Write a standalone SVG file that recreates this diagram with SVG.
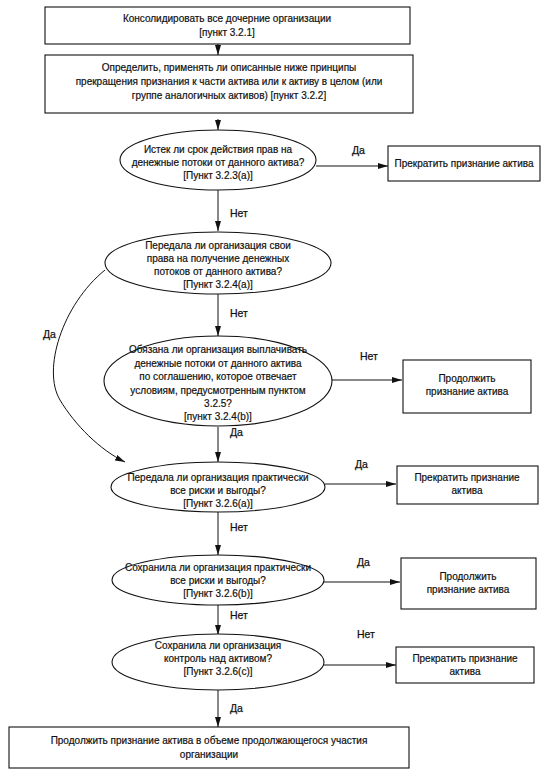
<svg xmlns="http://www.w3.org/2000/svg" width="552" height="775" viewBox="0 0 552 775">
<style>
.n{fill:#fff;stroke:#111;stroke-width:1.1}
.t{font-family:"Liberation Sans",Arial,sans-serif;font-size:10px;fill:#111;stroke:#111;stroke-width:0.2;text-anchor:middle}
.l{font-family:"Liberation Sans",Arial,sans-serif;font-size:10.5px;fill:#111;stroke:#111;stroke-width:0.25}
.c{fill:none;stroke:#111;stroke-width:1}
</style>
<defs>
<marker id="a" viewBox="0 0 10 6" refX="10" refY="3" markerWidth="10" markerHeight="6" markerUnits="userSpaceOnUse" orient="auto">
<path d="M0,0 L10,3 L0,6 Z" fill="#111"/>
</marker>
</defs>
<rect width="552" height="775" fill="#fff"/>
<g id="connectors">
<line class="c" x1="218" y1="44" x2="218" y2="55" marker-end="url(#a)"/>
<line class="c" x1="218" y1="119" x2="218" y2="130" marker-end="url(#a)"/>
<line class="c" x1="316" y1="166" x2="388" y2="166" marker-end="url(#a)"/>
<line class="c" x1="218" y1="190" x2="218" y2="231" marker-end="url(#a)"/>
<line class="c" x1="218" y1="294" x2="218" y2="336" marker-end="url(#a)"/>
<path class="c" d="M105,270 C62,305 42,370 60,400 C75,425 100,450 125,462" marker-end="url(#a)"/>
<line class="c" x1="331" y1="380" x2="402" y2="380" marker-end="url(#a)"/>
<line class="c" x1="218" y1="427" x2="218" y2="462" marker-end="url(#a)"/>
<line class="c" x1="325" y1="484" x2="396" y2="484" marker-end="url(#a)"/>
<line class="c" x1="218" y1="512" x2="218" y2="555" marker-end="url(#a)"/>
<line class="c" x1="323" y1="582" x2="400" y2="582" marker-end="url(#a)"/>
<line class="c" x1="218" y1="605" x2="218" y2="635" marker-end="url(#a)"/>
<line class="c" x1="323" y1="665" x2="396" y2="665" marker-end="url(#a)"/>
<line class="c" x1="218" y1="690" x2="218" y2="727" marker-end="url(#a)"/>
<text class="l" x="352" y="154">Да</text>
<text class="l" x="230" y="217">Нет</text>
<text class="l" x="230" y="317">Нет</text>
<text class="l" x="43" y="338">Да</text>
<text class="l" x="360" y="360">Нет</text>
<text class="l" x="230" y="436">Да</text>
<text class="l" x="355" y="468">Да</text>
<text class="l" x="230" y="531">Нет</text>
<text class="l" x="357" y="566">Да</text>
<text class="l" x="230" y="619">Нет</text>
<text class="l" x="357" y="638">Нет</text>
<text class="l" x="230" y="712">Да</text>
</g>
<g id="n1"><rect class="n" x="45" y="7" width="365" height="37"/>
<text class="t" x="227" y="22">Консолидировать все дочерние организации</text>
<text class="t" x="227" y="36">[пункт 3.2.1]</text></g>
<g id="n2"><rect class="n" x="45" y="55" width="368" height="58"/>
<text class="t" x="229" y="71">Определить, применять ли описанные ниже принципы</text>
<text class="t" x="229" y="85">прекращения признания к части актива или к активу в целом (или</text>
<text class="t" x="229" y="99">группе аналогичных активов) [пункт 3.2.2]</text></g>
<g id="n3"><ellipse class="n" cx="218" cy="160" rx="98" ry="30"/>
<text class="t" x="218" y="153">Истек ли срок действия прав на</text>
<text class="t" x="218" y="166">денежные потоки от данного актива?</text>
<text class="t" x="218" y="179">[Пункт 3.2.3(a)]</text></g>
<g id="n4"><rect class="n" x="388" y="146" width="152" height="35"/>
<text class="t" x="464" y="167">Прекратить признание актива</text></g>
<g id="n5"><ellipse class="n" cx="218" cy="263" rx="113" ry="31"/>
<text class="t" x="218" y="249">Передала ли организация свои</text>
<text class="t" x="218" y="262">права на получение денежных</text>
<text class="t" x="218" y="275">потоков от данного актива?</text>
<text class="t" x="218" y="288">[Пункт 3.2.4(a)]</text></g>
<g id="n6"><ellipse class="n" cx="218" cy="381" rx="114" ry="45"/>
<text class="t" x="218" y="353">Обязана ли организация выплачивать</text>
<text class="t" x="218" y="367">денежные потоки от данного актива</text>
<text class="t" x="218" y="380">по соглашению, которое отвечает</text>
<text class="t" x="218" y="394">условиям, предусмотренным пунктом</text>
<text class="t" x="218" y="407">3.2.5?</text>
<text class="t" x="218" y="420">[пункт 3.2.4(b)]</text></g>
<g id="n7"><rect class="n" x="403" y="360" width="128" height="53"/>
<text class="t" x="467" y="382">Продолжить</text>
<text class="t" x="467" y="395">признание актива</text></g>
<g id="n8"><ellipse class="n" cx="218" cy="487" rx="107" ry="25"/>
<text class="t" x="218" y="481">Передала ли организация практически</text>
<text class="t" x="218" y="494">все риски и выгоды?</text>
<text class="t" x="218" y="507">[Пункт 3.2.6(a)]</text></g>
<g id="n9"><rect class="n" x="397" y="466" width="141" height="38"/>
<text class="t" x="467" y="481">Прекратить признание</text>
<text class="t" x="467" y="494">актива</text></g>
<g id="n10"><ellipse class="n" cx="218" cy="580" rx="106" ry="25"/>
<text class="t" x="218" y="571">Сохранила ли организация практически</text>
<text class="t" x="218" y="584">все риски и выгоды?</text>
<text class="t" x="218" y="597">[Пункт 3.2.6(b)]</text></g>
<g id="n11"><rect class="n" x="401" y="558" width="135" height="51"/>
<text class="t" x="468" y="580">Продолжить</text>
<text class="t" x="468" y="593">признание актива</text></g>
<g id="n12"><ellipse class="n" cx="218" cy="662" rx="106" ry="28"/>
<text class="t" x="218" y="649">Сохранила ли организация</text>
<text class="t" x="218" y="662">контроль над активом?</text>
<text class="t" x="218" y="675">[Пункт 3.2.6(c)]</text></g>
<g id="n13"><rect class="n" x="396" y="647" width="138" height="36"/>
<text class="t" x="465" y="662">Прекратить признание</text>
<text class="t" x="465" y="675">актива</text></g>
<g id="n14"><rect class="n" x="9" y="727" width="400" height="41"/>
<text class="t" x="209" y="744">Продолжить признание актива в объеме продолжающегося участия</text>
<text class="t" x="209" y="758">организации</text></g>
</svg>
